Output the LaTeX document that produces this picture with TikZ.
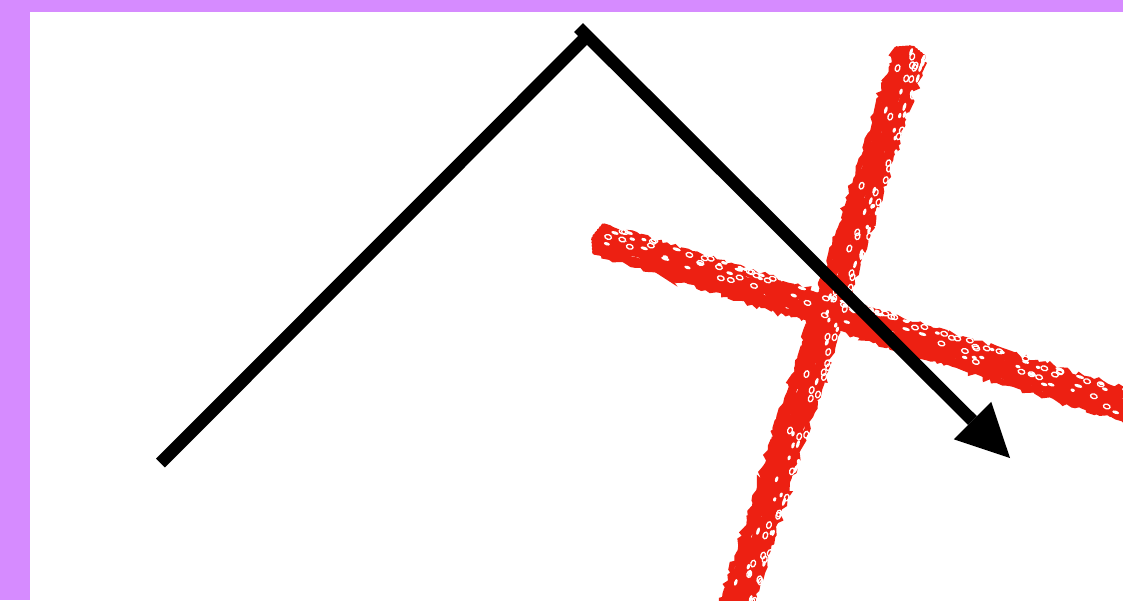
\documentclass[tikz,border=0pt]{standalone}
\usetikzlibrary{arrows.meta,decorations.pathmorphing,calc}
\definecolor{frame}{RGB}{214,139,255}
\definecolor{crayon}{RGB}{237,32,18}
\tikzset{
  connector/.style={line width=12.5pt, line cap=butt},
  arrowline/.style={connector, -{Triangle[length=53pt,width=53pt,line width=0pt]}},
  crayonstroke/.style={crayon, line width=6pt, line cap=round, decorate,
    decoration={random steps, segment length=4pt, amplitude=2.4pt}},
  speck/.style={white},
  ring/.style={white, line width=1.3pt},
}
\begin{document}
\begin{tikzpicture}[x=1pt,y=-1pt]
\useasboundingbox (0,0) rectangle (1123,600);
\fill[white] (0,0) rectangle (1123,600);
\fill[frame] (0,0) rectangle (1123,12);
\fill[frame] (0,0) rectangle (30,600);

% red crayon X
\begin{scope}
\clip (30,12) rectangle (1123,600);
\pgfmathsetseed{11}
\coordinate (r1a) at (594,238);
\coordinate (r1b) at (1150,414);
\coordinate (r2a) at (912,48);
\coordinate (r2b) at (732,620);
\foreach \o in {-14,-11,...,15} {
  \pgfmathsetmacro\s{abs(\o)*0.4}
  \draw[crayonstroke] ($(r1a)!\s pt!(r1b)+\o*(-0.306,0.953)$) -- ($(r1b)+\o*(-0.306,0.953)$);
  \draw[crayonstroke] ($(r2a)!\s pt!(r2b)+\o*(0.954,0.300)$) -- ($(r2b)+\o*(0.954,0.300)$);
}
\foreach \i in {1,...,60} {
  \pgfmathsetmacro\t{rnd}
  \pgfmathsetmacro\u{-16+28*rnd*rnd}
  \pgfmathsetmacro\ra{2+2.5*rnd}
  \fill[speck] ($(r1a)!\t!(r1b)+\u*(-0.306,0.953)$) ellipse[x radius=\ra pt, y radius=1.6pt, rotate=-17.6];
  \pgfmathsetmacro\t{rnd}
  \pgfmathsetmacro\u{-16+28*rnd*rnd}
  \draw[ring] ($(r1a)!\t!(r1b)+\u*(-0.306,0.953)$) ellipse[x radius=3.4pt, y radius=2.3pt, rotate=-17.6];
  \pgfmathsetmacro\t{rnd}
  \pgfmathsetmacro\u{16-28*rnd*rnd}
  \pgfmathsetmacro\ra{2+2.5*rnd}
  \fill[speck] ($(r2a)!\t!(r2b)+\u*(0.954,0.300)$) ellipse[x radius=\ra pt, y radius=1.6pt, rotate=72.5];
  \pgfmathsetmacro\t{rnd}
  \pgfmathsetmacro\u{16-28*rnd*rnd}
  \draw[ring] ($(r2a)!\t!(r2b)+\u*(0.954,0.300)$) ellipse[x radius=3.4pt, y radius=2.3pt, rotate=72.5];
}
\end{scope}

% black bent arrow
\coordinate (s) at (160.5,463);
\coordinate (a1) at (587,36);
\coordinate (a2) at (578.5,27.5);
\coordinate (tip) at (1010,458);
\draw[connector] (s) -- (a1);
\draw[arrowline] (a2) -- (tip);
\end{tikzpicture}
\end{document}
